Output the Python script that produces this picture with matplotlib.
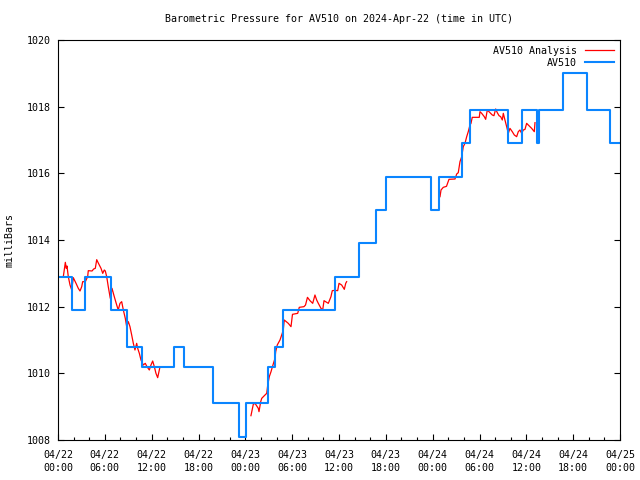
import matplotlib
matplotlib.use("Agg")
import matplotlib.pyplot as plt

# Barometric pressure, AV510, 2024-04-22 .. 2024-04-25 (hours since 04/22 00:00 UTC)

# station readings (step values, mb)
obs_h = [0.2, 1.83, 3.46, 6.79, 8.84, 10.8, 14.86, 16.18, 19.92, 23.19, 24.1,
         26.86, 27.86, 28.86, 35.45, 38.6, 40.7, 41.98, 47.75, 48.85, 51.72,
         52.78, 57.69, 59.4, 61.4, 61.6, 64.66, 67.8, 70.7, 72.0]
obs_mb = [1012.9, 1011.9, 1012.9, 1011.9, 1010.8, 1010.2, 1010.8, 1010.2, 1009.1,
          1008.1, 1009.1, 1010.2, 1010.8, 1011.9, 1012.9, 1013.9, 1014.9, 1015.9,
          1014.9, 1015.9, 1016.9, 1017.9, 1016.9, 1017.9, 1016.9, 1017.9, 1019.0,
          1017.9, 1016.9, 1016.9]

# analysis, three pieces
ana1_h = [0.68, 0.94, 1.06, 1.15, 1.32, 1.54, 1.76, 1.96, 2.31, 2.60, 2.82, 3.04,
          3.16, 3.50, 3.80, 3.88, 4.36, 4.57, 4.78, 4.96, 5.12, 5.29, 5.51, 5.73,
          5.93, 6.06, 6.24, 6.44, 6.70, 6.92, 7.21, 7.52, 7.72, 7.94, 8.16, 8.37,
          8.62, 8.80, 9.01, 9.22, 9.44, 9.65, 9.86, 10.08, 10.21, 10.42, 10.63,
          10.93, 11.18, 11.40, 11.70, 11.91, 12.13, 12.34, 12.55, 12.77, 12.98, 13.07]
ana1_mb = [1012.90, 1013.33, 1013.15, 1013.22, 1012.90, 1012.65, 1012.50, 1012.87,
           1012.70, 1012.55, 1012.47, 1012.60, 1012.75, 1012.75, 1012.90, 1013.08,
           1013.07, 1013.13, 1013.15, 1013.41, 1013.33, 1013.25, 1013.15, 1013.00,
           1013.10, 1013.07, 1012.90, 1012.60, 1012.25, 1012.55, 1012.30, 1012.05,
           1011.90, 1012.10, 1012.15, 1011.90, 1011.65, 1011.40, 1011.55, 1011.40,
           1011.15, 1010.90, 1010.70, 1010.90, 1010.75, 1010.60, 1010.40, 1010.25,
           1010.30, 1010.20, 1010.10, 1010.25, 1010.37, 1010.20, 1010.00, 1009.87,
           1010.10, 1010.20]

ana2_h = [24.72, 25.02, 25.24, 25.66, 25.75, 25.97, 26.10, 26.52, 26.74, 26.87,
          27.07, 27.29, 27.50, 27.80, 27.89, 28.09, 28.44, 28.73, 28.86, 28.99,
          29.50, 29.85, 30.04, 30.71, 30.91, 31.51, 31.71, 31.96, 32.28, 32.63,
          32.92, 33.14, 33.35, 33.69, 33.91, 34.08, 34.42, 34.63, 34.97, 35.14,
          35.49, 35.83, 36.00, 36.34, 36.68, 36.86, 36.98]
ana2_mb = [1008.73, 1009.07, 1009.10, 1008.95, 1008.85, 1009.15, 1009.25, 1009.35,
           1009.40, 1009.65, 1009.90, 1010.05, 1010.22, 1010.45, 1010.65, 1010.85,
           1011.00, 1011.20, 1011.30, 1011.60, 1011.50, 1011.40, 1011.77, 1011.80,
           1011.98, 1012.00, 1012.05, 1012.28, 1012.18, 1012.10, 1012.35, 1012.20,
           1012.10, 1011.95, 1011.90, 1012.18, 1012.13, 1012.10, 1012.30, 1012.48,
           1012.49, 1012.48, 1012.70, 1012.65, 1012.52, 1012.70, 1012.75]

ana3_h = [48.94, 49.07, 49.36, 49.77, 50.09, 50.86, 51.08, 51.28, 51.50, 51.72,
          51.92, 52.14, 52.36, 52.56, 52.78, 52.91, 53.07, 53.97, 54.06, 54.28,
          54.61, 54.79, 55.00, 55.34, 55.64, 55.85, 56.07, 56.28, 56.50, 56.71,
          56.92, 57.05, 57.26, 57.48, 57.69, 57.90, 58.20, 58.46, 58.76, 58.97,
          59.18, 59.40, 59.61, 59.83, 60.04, 60.25, 60.68, 61.02, 61.11]
ana3_mb = [1015.30, 1015.50, 1015.58, 1015.61, 1015.82, 1015.83, 1015.98, 1016.02,
           1016.35, 1016.50, 1016.80, 1016.90, 1017.10, 1017.25, 1017.45, 1017.50,
           1017.68, 1017.68, 1017.85, 1017.80, 1017.70, 1017.62, 1017.90, 1017.82,
           1017.75, 1017.73, 1017.93, 1017.82, 1017.73, 1017.70, 1017.60, 1017.80,
           1017.60, 1017.40, 1017.20, 1017.35, 1017.25, 1017.15, 1017.10, 1017.25,
           1017.30, 1017.20, 1017.30, 1017.32, 1017.50, 1017.45, 1017.35, 1017.25,
           1017.52]

tick_h = [0, 6, 12, 18, 24, 30, 36, 42, 48, 54, 60, 66, 72]
tick_lab = ["04/22\n00:00", "04/22\n06:00", "04/22\n12:00", "04/22\n18:00",
            "04/23\n00:00", "04/23\n06:00", "04/23\n12:00", "04/23\n18:00",
            "04/24\n00:00", "04/24\n06:00", "04/24\n12:00", "04/24\n18:00",
            "04/25\n00:00"]

plt.rcParams["font.family"] = "DejaVu Sans Mono"
plt.rcParams["font.size"] = 7.2

fig = plt.figure(figsize=(6.4, 4.8), dpi=100)
ax = fig.add_axes([58/640, 40/480, 562/640, 400/480])

red = "#ff0000"
blue = "#0a85ff"
ax.plot(ana1_h, ana1_mb, color=red, lw=0.9, label="AV510 Analysis")
ax.plot(ana2_h, ana2_mb, color=red, lw=0.9)
ax.plot(ana3_h, ana3_mb, color=red, lw=0.9)
ax.plot(obs_h, obs_mb, color=blue, lw=1.5, drawstyle="steps-post", label="AV510")

ax.set_xlim(0, 72)
ax.set_ylim(1008, 1020)
ax.set_xticks(tick_h)
ax.set_xticklabels(tick_lab, linespacing=1.35)
ax.set_xticks(range(0, 73, 2), minor=True)
ax.set_yticks(range(1008, 1021, 2))
ax.tick_params(axis="x", which="major", direction="in", length=4, width=0.8, pad=7.5)
ax.tick_params(axis="x", which="minor", direction="in", length=2, width=0.8)
ax.tick_params(axis="y", direction="in", length=4, width=0.8, right=True, pad=5)
for s in ax.spines.values():
    s.set_linewidth(0.8)

fig.text(10/640, 240/480, "milliBars", rotation=90, ha="center", va="center")
fig.text(339/640, 1 - 19/480, "Barometric Pressure for AV510 on 2024-Apr-22 (time in UTC)",
         ha="center", va="center")

leg = ax.legend(loc="upper right", frameon=False, markerfirst=False,
                handlelength=2.9, handletextpad=0.8, borderaxespad=0.2,
                labelspacing=0.2)
for t in leg.get_texts():
    t.set_ha("right")

fig.savefig("out.png", dpi=100)
